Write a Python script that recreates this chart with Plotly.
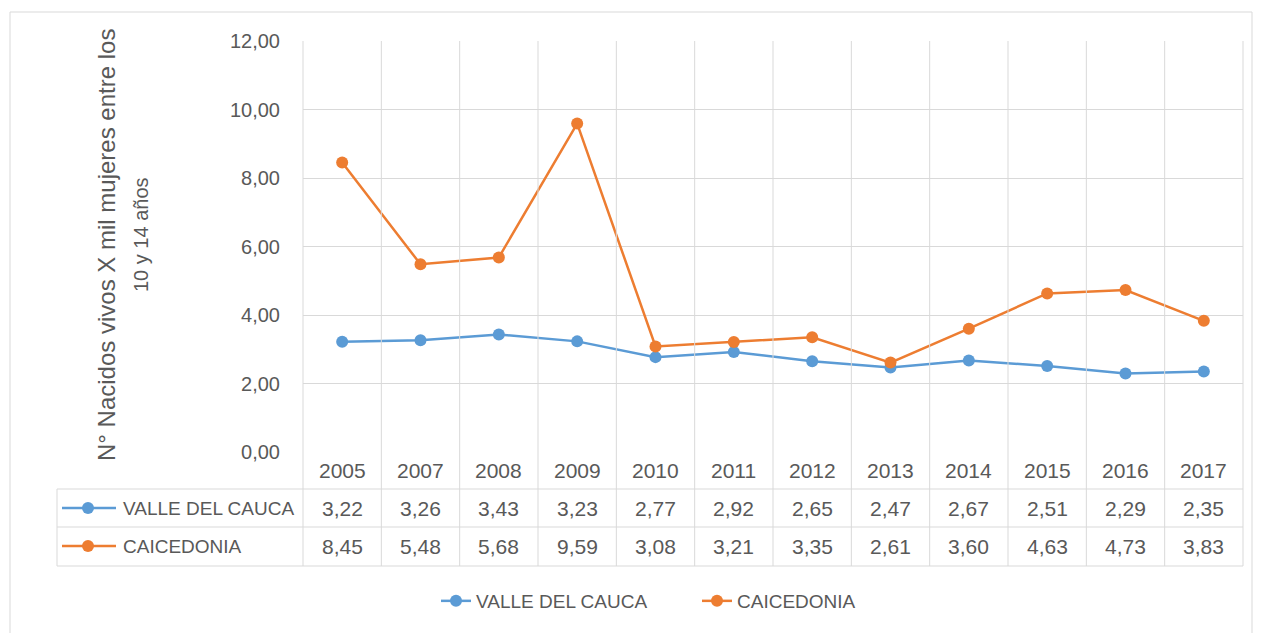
import plotly.graph_objects as go

years = ["2005", "2007", "2008", "2009", "2010", "2011", "2012", "2013", "2014", "2015", "2016", "2017"]
valle = [3.22, 3.26, 3.43, 3.23, 2.77, 2.92, 2.65, 2.47, 2.67, 2.51, 2.29, 2.35]
caicedonia = [8.45, 5.48, 5.68, 9.59, 3.08, 3.21, 3.35, 2.61, 3.60, 4.63, 4.73, 3.83]
series_names = ["VALLE DEL CAUCA", "CAICEDONIA"]
colors = ["#5B9BD5", "#ED7D31"]
y_ticks = [0, 2, 4, 6, 8, 10, 12]

OFF = 8  # page body margin
W, H = 1261 - OFF, 633 - OFF
L, R, T, B = 303 - OFF, 18, 41 - OFF, 181
PW, PH = W - L - R, H - T - B

def px(x):
    return (x - OFF - L) / PW

def py(y):
    return (H - B - (y - OFF)) / PH

FONT = "Liberation Sans"
TXT = "#595959"
GRID = "#D9D9D9"

fig = go.Figure()
xs = list(range(len(years)))
for name, vals, c in zip(series_names, [valle, caicedonia], colors):
    fig.add_trace(go.Scatter(x=xs, y=vals, name=name, mode="lines+markers",
                             line=dict(color=c, width=2.5),
                             marker=dict(color=c, size=12)))

shapes = []
annotations = []
n = len(years)
for i in range(n + 1):
    xb = i / n
    shapes.append(dict(type="line", xref="paper", yref="paper", x0=xb, x1=xb,
                       y0=1, y1=py(566), line=dict(color=GRID, width=1)))
for yy in [489, 527, 566]:
    shapes.append(dict(type="line", xref="paper", yref="paper", x0=px(57), x1=1,
                       y0=py(yy), y1=py(yy), line=dict(color=GRID, width=1)))
shapes.append(dict(type="line", xref="paper", yref="paper", x0=px(57), x1=px(57),
                   y0=py(489), y1=py(566), line=dict(color=GRID, width=1)))
shapes.append(dict(type="rect", xref="paper", yref="paper", x0=px(10), x1=px(1252),
                   y0=py(645), y1=py(12), line=dict(color="#D9D9D9", width=1)))

for i, yr in enumerate(years):
    annotations.append(dict(x=i, xref="x", y=py(470), yref="paper", text=yr,
                            xanchor="center", yanchor="middle",
                            showarrow=False, font=dict(family=FONT, size=21, color=TXT)))
row_y = [508, 546]
for vals, name, c, ry in zip([valle, caicedonia], series_names, colors, row_y):
    for i, v in enumerate(vals):
        annotations.append(dict(x=i, xref="x", y=py(ry), yref="paper",
                                text=f"{v:.2f}".replace(".", ","), showarrow=False,
                                xanchor="center", yanchor="middle",
                                font=dict(family=FONT, size=21, color=TXT)))
    annotations.append(dict(x=px(121), xref="paper", y=py(ry), yref="paper", text=name,
                            xanchor="left", yanchor="middle", showarrow=False,
                            font=dict(family=FONT, size=19, color=TXT)))
    shapes.append(dict(type="line", xref="paper", yref="paper", x0=px(62), x1=px(116),
                       y0=py(ry), y1=py(ry), line=dict(color=c, width=2.5)))
    shapes.append(dict(type="circle", xref="paper", yref="paper", xsizemode="pixel",
                       ysizemode="pixel", xanchor=px(88), yanchor=py(ry),
                       x0=-6, x1=6, y0=-6, y1=6, fillcolor=c, line=dict(color=c, width=0)))

annotations.append(dict(x=px(107), y=py(245), xref="paper", yref="paper",
                        text="N° Nacidos vivos X mil mujeres entre los", textangle=-90,
                        xanchor="center", yanchor="middle",
                        showarrow=False, font=dict(family=FONT, size=24, color=TXT)))
annotations.append(dict(x=px(141), y=py(235), xref="paper", yref="paper",
                        text="10 y 14 años", textangle=-90,
                        xanchor="center", yanchor="middle",
                        showarrow=False, font=dict(family=FONT, size=20, color=TXT)))

fig.update_layout(
    width=W, height=H,
    margin=dict(l=L, r=R, t=T, b=B, autoexpand=False),
    paper_bgcolor="white", plot_bgcolor="white",
    xaxis=dict(range=[-0.5, n - 0.5], showgrid=False, showticklabels=False,
               zeroline=False, showline=False, ticks=""),
    yaxis=dict(range=[0, 12], tickvals=y_ticks,
               ticktext=[f"{v:.2f}".replace(".", ",") for v in y_ticks],
               showgrid=True, gridcolor=GRID, gridwidth=1, zeroline=False,
               showline=False, ticks="", ticklabelstandoff=22,
               tickfont=dict(family=FONT, size=20, color=TXT)),
    shapes=shapes, annotations=annotations,
    showlegend=True,
    legend=dict(orientation="h", x=px(436), xanchor="left", y=py(601), yanchor="middle",
                font=dict(family=FONT, size=19, color=TXT),
                entrywidth=216, entrywidthmode="pixels", tracegroupgap=0),
)
fig.write_html("out.html")
